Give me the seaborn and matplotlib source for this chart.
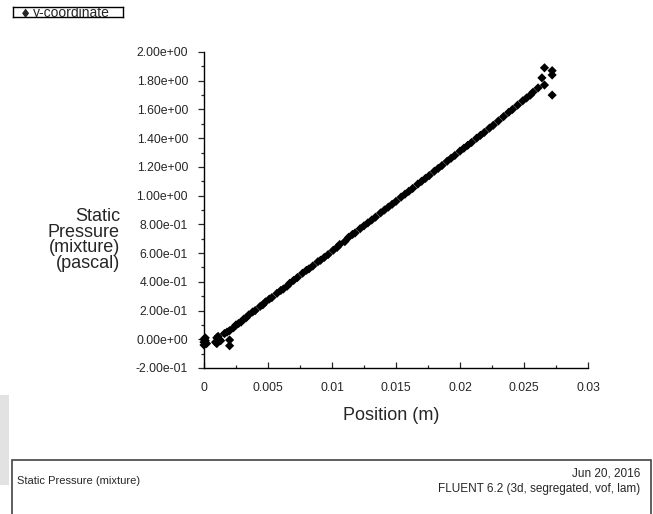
import pandas as pd
import matplotlib
matplotlib.use("Agg")
import matplotlib.pyplot as plt
import seaborn as sns
from matplotlib.ticker import MultipleLocator
from matplotlib.patches import Rectangle

# valores (posicao em m, pressao em Pa)
position = [
    0.0, 0.0, 0.0001, 0.0002, 0.0001, 0.0,
    0.0009, 0.001, 0.0011, 0.0012, 0.0013, 0.001,
    0.002, 0.002,
    0.0016, 0.0018, 0.0020, 0.0023, 0.0025, 0.0027, 0.0029, 0.0031, 0.0033, 0.0035,
    0.0038, 0.0040, 0.0044, 0.0046, 0.0048, 0.0051, 0.0053, 0.0057, 0.0060, 0.0062,
    0.0065, 0.0067, 0.0070, 0.0073, 0.0077, 0.0080, 0.0082, 0.0085, 0.0089, 0.0091,
    0.0094, 0.0097, 0.0101, 0.0104, 0.0106, 0.0110, 0.0113, 0.0116, 0.0118, 0.0122,
    0.0125, 0.0128, 0.0131, 0.0134, 0.0138, 0.0141, 0.0144, 0.0147, 0.0150, 0.0154,
    0.0157, 0.0160, 0.0163, 0.0167, 0.0170, 0.0173, 0.0176, 0.0180, 0.0183, 0.0186,
    0.0190, 0.0193, 0.0196, 0.0200, 0.0203, 0.0206, 0.0209, 0.0213, 0.0216, 0.0219,
    0.0223, 0.0226, 0.0230, 0.0234, 0.0238, 0.0241, 0.0245, 0.0249, 0.0252, 0.0255,
    0.0257,
    0.0266, 0.0272, 0.0272, 0.0264, 0.0266, 0.0261, 0.0272,
]
pressure = [
    -0.02, -0.04, -0.01, -0.03, 0.01, 0.0,
    -0.02, 0.01, 0.02, 0.0, -0.01, -0.03,
    -0.005, -0.045,
    0.04, 0.05, 0.06, 0.08, 0.10, 0.11, 0.12, 0.14, 0.15, 0.17,
    0.19, 0.20, 0.23, 0.24, 0.26, 0.28, 0.29, 0.32, 0.34, 0.35,
    0.37, 0.39, 0.41, 0.43, 0.46, 0.48, 0.49, 0.51, 0.54, 0.55,
    0.57, 0.59, 0.62, 0.64, 0.66, 0.68, 0.71, 0.73, 0.74, 0.77,
    0.79, 0.81, 0.83, 0.85, 0.88, 0.90, 0.92, 0.94, 0.96, 0.99,
    1.01, 1.03, 1.05, 1.08, 1.10, 1.12, 1.14, 1.17, 1.19, 1.21,
    1.24, 1.26, 1.28, 1.31, 1.33, 1.35, 1.37, 1.40, 1.42, 1.44,
    1.47, 1.49, 1.52, 1.55, 1.58, 1.60, 1.63, 1.66, 1.68, 1.70,
    1.72,
    1.89, 1.87, 1.84, 1.82, 1.77, 1.75, 1.70,
]

x_ticks = [0, 0.005, 0.01, 0.015, 0.02, 0.025, 0.03]
x_tick_labels = ["0", "0.005", "0.01", "0.015", "0.02", "0.025", "0.03"]
y_ticks = [-0.2, 0.0, 0.2, 0.4, 0.6, 0.8, 1.0, 1.2, 1.4, 1.6, 1.8, 2.0]
y_tick_labels = ["-2.00e-01", "0.00e+00", "2.00e-01", "4.00e-01", "6.00e-01", "8.00e-01",
                 "1.00e+00", "1.20e+00", "1.40e+00", "1.60e+00", "1.80e+00", "2.00e+00"]

df = pd.DataFrame({"position": position, "pressure": pressure})

sns.set_style("ticks")
plt.rcParams['font.family'] = ['Liberation Sans', 'DejaVu Sans']

W, H = 653, 514
fig = plt.figure(figsize=(6.53, 5.14), dpi=100)
ax = fig.add_axes([204 / W, 1 - 368 / H, 384 / W, 316 / H])

sns.scatterplot(data=df, x="position", y="pressure", ax=ax, marker="D", s=22,
                color="black", edgecolor="none", clip_on=False, legend=False)

ax.set_xlim(0, 0.03)
ax.set_ylim(-0.2, 2.0)
ax.set_xticks(x_ticks)
ax.set_xticklabels(x_tick_labels)
ax.set_yticks(y_ticks)
ax.set_yticklabels(y_tick_labels)
ax.xaxis.set_minor_locator(MultipleLocator(0.0025))
ax.yaxis.set_minor_locator(MultipleLocator(0.1))

ax.tick_params(axis='x', which='major', direction='in', length=4, width=0.9, pad=10, labelsize=8.8)
ax.tick_params(axis='x', which='minor', direction='in', length=2.5, width=0.9)
ax.tick_params(axis='y', which='major', direction='out', length=4.5, width=0.9, pad=7, labelsize=8.8)
ax.tick_params(axis='y', which='minor', direction='out', length=2.5, width=0.9)

for side in ['top', 'right']:
    ax.spines[side].set_visible(False)
for side in ['left', 'bottom']:
    ax.spines[side].set_color('black')
    ax.spines[side].set_linewidth(1.0)

ax.set_xlabel('Position (m)', fontsize=13)
ax.xaxis.set_label_coords(0.487, -0.149)
ax.xaxis.label.set_va('center')
ax.set_ylabel('Static\nPressure\n(mixture)\n(pascal)', rotation=0, fontsize=13,
              ha='right', va='center', multialignment='right', linespacing=0.9)
ax.yaxis.set_label_coords(-0.219, 0.405)

# caixa da legenda (texto cortado pela caixa)
lax = fig.add_axes([13 / W, 1 - 17 / H, 110 / W, 10 / H])
lax.set_xticks([])
lax.set_yticks([])
for sp in lax.spines.values():
    sp.set_color('black')
    sp.set_linewidth(1.0)
lax.text(0.11, -0.05, '\u2666', transform=lax.transAxes, fontsize=9, ha='center',
         va='baseline', clip_on=True, family=['DejaVu Sans'])
lax.text(0.18, -0.05, 'y-coordinate', transform=lax.transAxes, fontsize=10,
         va='baseline', clip_on=True)

# faixa cinza na esquerda
fig.patches.append(Rectangle((0, 1 - 485 / H), 9 / W, 90 / H, transform=fig.transFigure,
                             facecolor='#e2e2e2', edgecolor='none', zorder=0))

# caixa de rodape
fig.patches.append(Rectangle((12 / W, -0.02), 639 / W, 1 - 460 / H + 0.02,
                             transform=fig.transFigure, facecolor='none',
                             edgecolor='#444444', linewidth=1.2))
fig.text(17 / W, 1 - 481 / H, 'Static Pressure (mixture)', fontsize=8, va='center')
fig.text(640 / W, 1 - 473 / H, 'Jun 20, 2016', fontsize=8.5, va='center', ha='right')
fig.text(640 / W, 1 - 489 / H, 'FLUENT 6.2 (3d, segregated, vof, lam)', fontsize=8.5,
         va='center', ha='right')

fig.savefig("out.png", dpi=100)
